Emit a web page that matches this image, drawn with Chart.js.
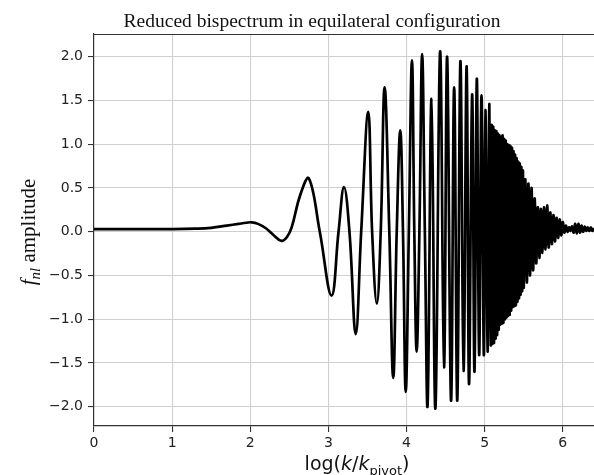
<!DOCTYPE html>
<html>
<head>
<meta charset="utf-8">
<script src="https://cdn.jsdelivr.net/npm/chart.js@4.4.1/dist/chart.umd.min.js"></script>
<style>
  html, body { margin: 0; padding: 0; background: #fff; overflow: hidden; }
  canvas { display: block; }
</style>
</head>
<body>
<canvas id="c" width="594" height="475"></canvas>
<script>
// ---- data ----
const titleText = 'Reduced bispectrum in equilateral configuration';

const logK = [
  0, 0.5, 1.0, 1.3, 1.5, 1.7, 1.85, 1.95, 2.02, 2.1, 2.2, 2.3, 2.40, 2.47, 2.53, 2.64, 2.75,
  2.89, 3.04, 3.13, 3.20, 3.27, 3.35, 3.42, 3.51, 3.56, 3.62, 3.67, 3.72, 3.78, 3.83, 3.875,
  3.92, 3.955, 3.99, 4.03, 4.07, 4.10, 4.13, 4.165, 4.20, 4.235, 4.27, 4.32, 4.37, 4.43, 4.48,
  4.52, 4.57, 4.61, 4.65, 4.69, 4.73, 4.77, 4.80, 4.84, 4.87, 4.90, 4.93, 4.96, 4.99, 5.01,
  5.04, 5.06,
  5.08, 5.09, 5.10, 5.11, 5.12, 5.13, 5.14, 5.15, 5.16, 5.17, 5.18, 5.19, 5.20, 5.21, 5.22,
  5.23, 5.24, 5.25, 5.26, 5.27, 5.28, 5.29, 5.30, 5.31, 5.32, 5.33, 5.34, 5.35, 5.36, 5.37,
  5.38, 5.39, 5.40, 5.41, 5.42, 5.43, 5.44, 5.45, 5.46, 5.47, 5.48, 5.49, 5.50,
  5.52, 5.54, 5.56, 5.58, 5.60, 5.62, 5.64, 5.66, 5.68, 5.70, 5.72, 5.74, 5.76, 5.78, 5.80,
  5.82, 5.84, 5.86, 5.88, 5.90, 5.92, 5.94, 5.96, 5.98, 6.00, 6.02, 6.04, 6.06, 6.08, 6.10,
  6.12, 6.14, 6.16, 6.18, 6.20, 6.22, 6.24, 6.26, 6.28, 6.30, 6.32, 6.34, 6.36, 6.38, 6.40
];

const fnlAmplitude = [
  0.03, 0.03, 0.03, 0.035, 0.045, 0.07, 0.09, 0.103, 0.108, 0.09, 0.04, -0.04, -0.105, -0.06, 0.05, 0.42, 0.61,
  0.0, -0.73, 0.0, 0.51, 0.0, -1.17, 0.0, 1.37, 0.0, -0.82, 0.0, 1.65, 0.0, -1.67, 0.0,
  1.16, 0.0, -1.83, 0.0, 1.96, 0.0, -1.37, 0.0, 2.03, 0.0, -1.98, 1.52, -2.02, 2.06, -1.55,
  2.00, -1.93, 1.65, -1.93, 1.95, -1.59, 1.89, -1.74, 1.57, -1.60, 1.75, -1.41, 1.56, -1.41, 1.39,
  -1.37, 1.46,
  -1.30, 1.22, -1.28, 1.20, -1.27, 1.16, -1.22, 1.15, -1.18, 1.12, -1.12, 1.10, -1.06, 1.08, -1.05,
  1.10, -1.04, 1.06, -1.00, 1.04, -0.98, 1.00, -0.96, 0.99, -0.95, 0.98, -0.90, 0.96, -0.86, 0.92,
  -0.85, 0.88, -0.84, 0.84, -0.80, 0.80, -0.76, 0.78, -0.72, 0.74, -0.68, 0.70, -0.64,
  0.60, -0.58, 0.55, -0.50, 0.50, -0.44, 0.38, -0.36, 0.28, -0.30, 0.26, -0.24, 0.28, -0.20, 0.30,
  -0.18, 0.22, -0.14, 0.19, -0.11, 0.16, -0.07, 0.14, -0.04, 0.11, -0.01, 0.07, 0.00, 0.05, 0.01,
  0.06, -0.01, 0.09, -0.02, 0.09, -0.01, 0.07, 0.00, 0.06, 0.01, 0.05, 0.01, 0.05, 0.01, 0.04
];

const xTicks = [0, 1, 2, 3, 4, 5, 6];
const xTickLabels = ['0', '1', '2', '3', '4', '5', '6'];
const yTicks = [-2.0, -1.5, -1.0, -0.5, 0.0, 0.5, 1.0, 1.5, 2.0];
const yTickLabels = ['\u22122.0', '\u22121.5', '\u22121.0', '\u22120.5', '0.0', '0.5', '1.0', '1.5', '2.0'];

const xLabelParts = [
  { text: 'log(', style: 'normal' },
  { text: 'k', style: 'italic' },
  { text: '/', style: 'normal' },
  { text: 'k', style: 'italic' },
  { text: 'pivot', style: 'sub' },
  { text: ')', style: 'normal' }
];
const yLabelParts = [
  { text: 'f', style: 'italic' },
  { text: 'nl', style: 'subitalic' },
  { text: ' amplitude', style: 'normal' }
];

// ---- drawing ----
const points = logK.map((x, i) => ({ x: x, y: fnlAmplitude[i] }));

function fontFor(style, family, size) {
  if (style === 'italic') return 'italic ' + size + 'px ' + family;
  if (style === 'sub') return Math.round(size * 0.7) + 'px ' + family;
  if (style === 'subitalic') return 'italic ' + Math.round(size * 0.7) + 'px ' + family;
  return size + 'px ' + family;
}
function drawRich(ctx, parts, family, size, cx, baseY) {
  let total = 0;
  const widths = parts.map(p => { ctx.font = fontFor(p.style, family, size); const w = ctx.measureText(p.text).width; total += w; return w; });
  let x = cx - total / 2;
  ctx.textAlign = 'left';
  ctx.textBaseline = 'alphabetic';
  parts.forEach((p, i) => {
    ctx.font = fontFor(p.style, family, size);
    const dy = (p.style === 'sub' || p.style === 'subitalic') ? size * 0.25 : 0;
    ctx.fillText(p.text, x, baseY + dy);
    x += widths[i];
  });
}

const labelsPlugin = {
  id: 'labelsPlugin',
  afterDraw(chart) {
    const ctx = chart.ctx, a = chart.chartArea;
    ctx.save();
    ctx.strokeStyle = '#333';
    ctx.lineWidth = 1.2;
    ctx.beginPath();
    ctx.moveTo(a.left, a.top + 0.5);
    ctx.lineTo(a.right, a.top + 0.5);
    ctx.stroke();
    ctx.fillStyle = '#111';
    drawRich(ctx, xLabelParts, '"DejaVu Sans"', 19, 357, 470);
    ctx.translate(35, 232);
    ctx.rotate(-Math.PI / 2);
    drawRich(ctx, yLabelParts, '"Liberation Serif"', 21, 0, 0);
    ctx.restore();
  }
};

new Chart(document.getElementById('c'), {
  type: 'line',
  data: {
    datasets: [{
      data: points,
      borderColor: '#000',
      borderWidth: 2.7,
      pointRadius: 0,
      tension: 0.4,
      fill: false
    }]
  },
  options: {
    responsive: false,
    devicePixelRatio: 1,
    animation: false,
    layout: { padding: { left: 30, right: 0, top: 0, bottom: 0 } },
    plugins: {
      legend: { display: false },
      tooltip: { enabled: false },
      title: {
        display: true,
        text: titleText,
        color: '#111',
        font: { family: '"Liberation Serif"', size: 19.5, weight: 'normal', lineHeight: 1.2 },
        padding: { top: 10, bottom: 0.6 }
      }
    },
    scales: {
      x: {
        type: 'linear',
        min: 0,
        max: 6.4,
        afterBuildTicks: s => { s.ticks = xTicks.map(v => ({ value: v })); },
        afterFit: s => { s.height = 49; },
        ticks: {
          callback: (v, i) => xTickLabels[i],
          font: { family: '"DejaVu Sans"', size: 14 },
          color: '#222',
          padding: 3,
          maxRotation: 0,
          autoSkip: false
        },
        grid: { color: '#d0d0d0', lineWidth: 1.1, tickLength: 6, tickColor: '#333' },
        border: { color: '#333', width: 1.2 }
      },
      y: {
        type: 'linear',
        min: -2.22,
        max: 2.26,
        afterBuildTicks: s => { s.ticks = yTicks.map(v => ({ value: v })); },
        afterFit: s => { s.width = 64; },
        ticks: {
          callback: (v, i) => yTickLabels[i],
          font: { family: '"DejaVu Sans"', size: 14 },
          color: '#222',
          padding: 5,
          autoSkip: false
        },
        grid: { color: '#d0d0d0', lineWidth: 1.1, tickLength: 6, tickColor: '#333' },
        border: { color: '#333', width: 1.2 }
      }
    }
  },
  plugins: [labelsPlugin]
});
</script>
</body>
</html>
